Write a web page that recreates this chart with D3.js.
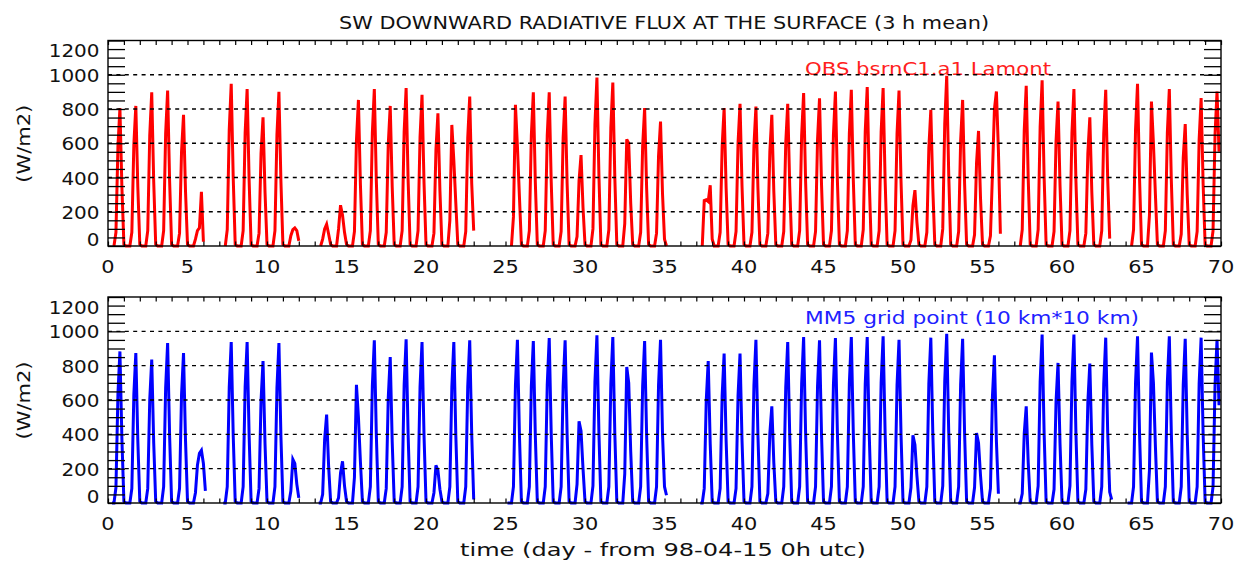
<!DOCTYPE html>
<html>
<head>
<meta charset="utf-8">
<script src="https://cdn.jsdelivr.net/npm/d3@7"></script>
<style>
  html, body { margin: 0; padding: 0; background: #fff; }
  svg { display: block; }
  text { font-family: "DejaVu Sans", sans-serif; }
</style>
</head>
<body>
<div id="chart"></div>
<script>
// ---------------- DATA ----------------
const title = "SW DOWNWARD RADIATIVE FLUX AT THE SURFACE (3 h mean)";
const xTitle = "time (day - from 98-04-15 0h utc)";
const yTitle = "(W/m2)";
const obsLabel = "OBS bsrnC1.a1 Lamont";
const mm5Label = "MM5 grid point (10 km*10 km)";

// 3-hourly time stamps within each day (hours UTC)
const hours = [0, 3, 6, 9, 12, 15, 18, 21];
const xTickLabels = [0, 5, 10, 15, 20, 25, 30, 35, 40, 45, 50, 55, 60, 65, 70];
const yTickLabels = [0, 200, 400, 600, 800, 1000, 1200];
const gridValues = [200, 400, 600, 800, 1000];

const N = null;
// OBS (W/m2), one row per day, values at hours 0,3,...,21 UTC ; null = missing
const obsDaily = [
  [N,N,N,0,80,580,805,340],
  [10,0,0,0,80,590,818,345],
  [10,0,0,0,90,645,898,375],
  [10,0,0,0,90,655,908,380],
  [10,0,0,0,75,550,766,320],
  [10,0,0,0,40,90,105,316],
  [25,N,N,N,N,N,N,N],
  [N,N,N,0,95,680,947,400],
  [10,0,0,0,90,660,916,385],
  [10,0,0,0,75,540,752,315],
  [10,0,0,0,90,650,900,380],
  [10,0,0,0,60,95,105,90],
  [30,N,N,N,N,N,N,N],
  [N,N,N,0,40,100,127,70],
  [10,0,0,0,100,238,180,80],
  [10,0,0,0,85,615,853,360],
  [10,0,0,0,90,660,916,385],
  [10,0,0,0,80,590,818,345],
  [10,0,0,0,90,665,922,385],
  [10,0,0,0,90,635,883,370],
  [10,0,0,0,75,560,775,325],
  [10,0,0,0,150,707,500,250],
  [10,0,0,0,85,630,873,365],
  [90,N,N,N,N,N,N,N],
  [N,N,N,N,N,N,N,N],
  [N,N,N,0,170,824,580,290],
  [10,0,0,0,90,645,898,375],
  [10,0,0,0,90,645,898,375],
  [10,0,0,0,85,630,873,365],
  [10,0,0,0,55,380,531,225],
  [10,0,0,0,100,710,984,415],
  [10,0,0,0,95,690,955,400],
  [10,0,0,0,130,623,600,250],
  [10,0,0,0,80,580,805,340],
  [10,0,0,0,75,525,727,305],
  [40,0,N,N,N,N,N,N],
  [N,N,N,N,N,N,N,N],
  [N,N,N,0,265,270,260,355],
  [40,0,0,0,80,580,805,340],
  [10,0,0,0,85,600,830,350],
  [10,0,0,0,80,585,814,340],
  [10,0,0,0,75,550,766,320],
  [10,0,0,0,85,600,830,350],
  [10,0,0,0,90,645,893,375],
  [10,0,0,0,85,620,863,360],
  [10,0,0,0,90,650,902,380],
  [10,0,0,0,90,655,912,385],
  [10,0,0,0,95,670,928,390],
  [10,0,0,0,90,665,922,385],
  [10,0,0,0,90,655,908,380],
  [10,0,0,0,35,235,326,140],
  [10,0,0,0,80,570,795,335],
  [10,0,0,0,100,715,994,420],
  [10,0,0,0,85,615,853,360],
  [10,0,0,0,65,485,672,280],
  [10,0,0,0,60,420,800,902],
  [560,72,N,N,N,N,N,N],
  [N,N,N,0,95,675,936,395],
  [10,0,0,0,95,695,967,405],
  [10,0,0,0,85,610,844,355],
  [10,0,0,0,90,660,916,385],
  [10,0,0,0,75,540,752,315],
  [10,0,0,0,90,655,912,385],
  [43,N,N,N,N,N,N,N],
  [N,N,N,0,95,680,947,400],
  [10,0,0,0,180,844,600,300],
  [10,0,0,0,90,660,916,385],
  [10,0,0,0,70,515,712,300],
  [10,0,0,0,85,620,864,365],
  [10,0,0,0,90,650,902,550]
];

// MM5 grid point (W/m2), same layout
const mm5Daily = [
  [N,N,0,0,90,635,883,370],
  [10,0,0,0,85,630,874,365],
  [10,0,0,0,85,600,835,350],
  [10,0,0,0,95,670,932,390],
  [10,0,0,0,85,630,874,365],
  [10,0,0,0,60,220,290,307],
  [230,70,N,N,N,N,N,N],
  [N,N,0,0,95,675,938,395],
  [10,0,0,0,95,675,938,395],
  [10,0,0,0,85,595,827,345],
  [10,0,0,0,95,670,932,390],
  [10,0,0,0,70,254,230,110],
  [30,N,N,N,N,N,N,N],
  [N,N,0,0,50,370,515,215],
  [10,0,0,0,30,175,243,100],
  [10,0,0,0,150,689,500,240],
  [10,0,0,0,95,680,948,400],
  [10,0,0,0,85,610,850,355],
  [10,0,0,0,95,685,953,400],
  [10,0,0,0,95,675,938,395],
  [10,0,0,0,60,219,190,80],
  [10,0,0,0,95,675,938,395],
  [10,0,0,0,95,680,948,400],
  [20,N,N,N,N,N,N,N],
  [N,N,N,N,N,N,N,N],
  [N,0,0,0,95,685,951,400],
  [10,0,0,0,95,680,944,395],
  [10,0,0,0,95,690,961,405],
  [10,0,0,0,95,680,948,400],
  [10,0,0,0,110,476,420,200],
  [10,0,0,0,100,705,977,410],
  [10,0,0,0,95,695,967,405],
  [10,0,0,0,170,792,700,300],
  [10,0,0,0,95,680,944,395],
  [10,0,0,0,95,685,951,400],
  [95,45,N,N,N,N,N,N],
  [N,N,N,N,N,N,N,N],
  [N,N,0,0,85,595,827,345],
  [10,0,0,0,85,625,870,365],
  [10,0,0,0,85,625,870,365],
  [10,0,0,0,95,685,951,400],
  [10,0,0,0,55,405,563,235],
  [10,0,0,0,95,675,938,395],
  [10,0,0,0,95,695,967,405],
  [10,0,0,0,95,680,948,400],
  [10,0,0,0,95,690,961,405],
  [10,0,0,0,95,695,967,405],
  [10,0,0,0,95,695,967,405],
  [10,0,0,0,95,700,971,410],
  [10,0,0,0,95,685,951,400],
  [10,0,0,0,90,394,340,160],
  [10,0,0,0,95,695,963,405],
  [10,0,0,0,100,710,986,415],
  [10,0,0,0,95,690,957,400],
  [10,0,0,0,90,408,350,160],
  [10,0,0,0,85,620,860,360],
  [54,N,N,N,N,N,N,N],
  [N,N,0,0,55,405,563,235],
  [10,0,0,0,100,705,981,410],
  [10,0,0,0,80,590,816,345],
  [10,0,0,0,100,705,981,410],
  [10,0,0,0,80,585,812,340],
  [10,0,0,0,95,695,963,405],
  [64,20,N,N,N,N,N,N],
  [N,0,0,0,95,700,971,410],
  [10,0,0,0,190,876,700,330],
  [10,0,0,0,95,700,971,410],
  [10,0,0,0,95,690,957,400],
  [10,0,0,0,95,695,963,405],
  [10,0,0,0,95,685,951,569]
];

// ---------------- LAYOUT ----------------
const W = 1236, H = 561;
const left = 108, right = 1221;
const panels = [
  { top: 40.5, bottom: 246, data: obsDaily, color: "#ff0000", label: obsLabel, labelBase: 75, textColor: "#ff2020", labelLen: 246 },
  { top: 297, bottom: 503, data: mm5Daily, color: "#0000ff", label: mm5Label, labelBase: 323.5, textColor: "#2020ff", labelLen: 334 }
];

const svg = d3.select("#chart").append("svg")
  .attr("width", W).attr("height", H)
  .attr("viewBox", `0 0 ${W} ${H}`);

const x = d3.scaleLinear().domain([0, 70]).range([left, right]);

svg.append("text")
  .attr("x", 664).attr("y", 29)
  .attr("text-anchor", "middle")
  .attr("font-size", 17.5)
  .attr("textLength", 650).attr("lengthAdjust", "spacingAndGlyphs")
  .attr("fill", "#111")
  .text(title);

function toSeries(daily) {
  const pts = [];
  daily.forEach((row, i) => {
    row.forEach((v, k) => pts.push({ t: i + hours[k] / 24, v: v }));
  });
  return pts;
}

panels.forEach((p, pi) => {
  const y = d3.scaleLinear().domain([0, 1200]).range([p.bottom, p.top]);
  const g = svg.append("g");
  const clipId = "clip" + pi;
  svg.append("clipPath").attr("id", clipId)
    .append("rect").attr("x", left).attr("y", p.top - 2)
    .attr("width", right - left).attr("height", p.bottom - p.top + 4);

  // data line
  const series = toSeries(p.data);
  const line = d3.line()
    .defined(d => d.v !== null)
    .x(d => x(d.t)).y(d => y(d.v));
  g.append("path")
    .datum(series)
    .attr("clip-path", `url(#${clipId})`)
    .attr("fill", "none")
    .attr("stroke", p.color)
    .attr("stroke-width", 3)
    .attr("stroke-linejoin", "miter")
    .attr("d", line);

  // legend text
  g.append("text")
    .attr("x", 805).attr("y", p.labelBase)
    .attr("font-size", 18)
    .attr("textLength", p.labelLen).attr("lengthAdjust", "spacingAndGlyphs")
    .attr("fill", p.textColor)
    .text(p.label);

  // dotted grid lines
  g.selectAll(".grid").data(gridValues).enter().append("line")
    .attr("x1", left).attr("x2", right)
    .attr("y1", d => y(d)).attr("y2", d => y(d))
    .attr("stroke", "#000").attr("stroke-width", 1.3)
    .attr("stroke-dasharray", "4,4.4");

  // y ticks every 50 on both sides
  const yMinor = d3.range(0, 1201, 50);
  const leftAxis = d3.axisRight(y).tickValues(yMinor).tickSize(17).tickFormat("");
  const rightAxis = d3.axisLeft(y).tickValues(yMinor).tickSize(17).tickFormat("");
  g.append("g").attr("transform", `translate(${left},0)`).call(leftAxis)
    .call(s => s.select(".domain").remove())
    .selectAll("line").attr("stroke", "#000").attr("stroke-width", 1.3);
  g.append("g").attr("transform", `translate(${right},0)`).call(rightAxis)
    .call(s => s.select(".domain").remove())
    .selectAll("line").attr("stroke", "#000").attr("stroke-width", 1.3);

  // x ticks every day top and bottom
  const xMinor = d3.range(0, 71, 1);
  const topAxis = d3.axisBottom(x).tickValues(xMinor).tickSize(4.5).tickFormat("");
  const botAxis = d3.axisTop(x).tickValues(xMinor).tickSize(4.5).tickFormat("");
  g.append("g").attr("transform", `translate(0,${p.top})`).call(topAxis)
    .call(s => s.select(".domain").remove())
    .selectAll("line").attr("stroke", "#000").attr("stroke-width", 1.2);
  g.append("g").attr("transform", `translate(0,${p.bottom})`).call(botAxis)
    .call(s => s.select(".domain").remove())
    .selectAll("line").attr("stroke", "#000").attr("stroke-width", 1.2);

  // frame
  g.append("rect")
    .attr("x", left).attr("y", p.top)
    .attr("width", right - left).attr("height", p.bottom - p.top)
    .attr("fill", "none").attr("stroke", "#000").attr("stroke-width", 1.4);

  // y tick labels
  g.selectAll(".ylab").data(yTickLabels).enter().append("text")
    .attr("x", 99.5)
    .attr("y", d => d === 0 ? p.bottom - 0.5 : (d === 1200 ? p.top + 16.5 : y(d) + 7))
    .attr("text-anchor", "end")
    .attr("font-size", 18.5)
    .attr("textLength", d => String(d).length * 12.7)
    .attr("lengthAdjust", "spacingAndGlyphs")
    .attr("fill", "#111")
    .text(d => d);

  // x tick labels
  g.selectAll(".xlab").data(xTickLabels).enter().append("text")
    .attr("x", d => x(d))
    .attr("y", p.bottom + 26.5)
    .attr("text-anchor", "middle")
    .attr("font-size", 18.5)
    .attr("textLength", d => String(d).length * 13.3)
    .attr("lengthAdjust", "spacingAndGlyphs")
    .attr("fill", "#111")
    .text(d => d);

  // y axis title
  const cy = (p.top + p.bottom) / 2 + 0.5;
  g.append("text")
    .attr("transform", `translate(30,${cy}) rotate(-90)`)
    .attr("text-anchor", "middle")
    .attr("font-size", 18)
    .attr("textLength", 78).attr("lengthAdjust", "spacingAndGlyphs")
    .attr("fill", "#111")
    .text(yTitle);
});

svg.append("text")
  .attr("x", 663).attr("y", 555.5)
  .attr("text-anchor", "middle")
  .attr("font-size", 18)
  .attr("textLength", 406).attr("lengthAdjust", "spacingAndGlyphs")
  .attr("fill", "#111")
  .text(xTitle);
</script>
</body>
</html>
